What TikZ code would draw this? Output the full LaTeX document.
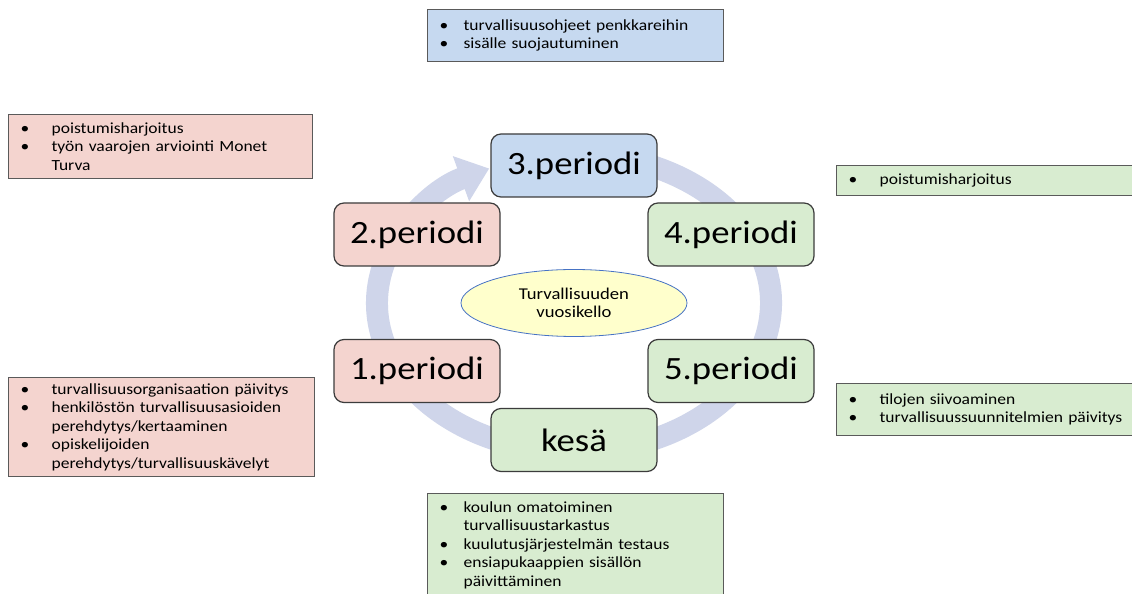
\documentclass[tikz,border=0pt]{standalone}
\usepackage{fontspec}
\setmainfont{Carlito}[FakeStretch=1.13]
\usetikzlibrary{shapes.geometric,arrows.meta}

\definecolor{pinkfill}{RGB}{244,212,207}
\definecolor{bluefill}{RGB}{198,217,240}
\definecolor{greenfill}{RGB}{216,236,208}
\definecolor{ringblue}{RGB}{207,213,234}
\definecolor{clockfill}{RGB}{255,255,204}
\definecolor{clockline}{RGB}{70,114,196}
\definecolor{notegray}{RGB}{90,90,90}
\definecolor{periodgray}{RGB}{60,60,60}

\newlength{\bulw}
\newcommand{\bitem}[1]{\makebox[\bulw][l]{\textbullet}#1}
\newcommand{\bcont}[1]{\hspace*{\bulw}#1}

\begin{document}
\begin{tikzpicture}[
  x = 1pt, y = 1pt,
  period/.style = {draw = periodgray, line width = 1.2pt, rounded corners = 10pt,
                   minimum width = 166pt, minimum height = 63pt, inner sep = 0pt,
                   font = \fontsize{32.5}{36}\selectfont},
  note/.style = {draw = notegray, line width = 1.2pt, anchor = north west, align = left,
                 inner xsep = 12pt, inner ysep = 0pt, font = \fontsize{15.5}{18.5}\selectfont},
  bullet width/.style = {execute at begin node = {\setlength{\bulw}{#1}}},
  ring/.style = {draw = ringblue, line width = 22pt,
                 -{Triangle[length = 30pt, width = 46pt]}},
  ]
  \path[use as bounding box, fill = white] (0,0) rectangle (1132,594);

  \coordinate (hub) at (574,291);
  \draw[ring] (hub) ++(80:197pt and 149pt)
    arc[start angle = 80, end angle = -244.5, x radius = 197pt, y radius = 149pt];

  \node[draw = clockline, fill = clockfill, ellipse, line width = 0.8pt,
        minimum width = 226pt, minimum height = 67pt, inner sep = 0pt, align = center,
        font = \fontsize{16.5}{18.5}\selectfont] (clock) at (hub) {Turvallisuuden\\vuosikello};

  \node[period, fill = bluefill]  (pthree) at (574,428.5) {3.periodi};
  \node[period, fill = pinkfill]  (ptwo)   at (417,359.5) {2.periodi};
  \node[period, fill = greenfill] (pfour)  at (731,359.5) {4.periodi};
  \node[period, fill = pinkfill]  (pone)   at (417,223)   {1.periodi};
  \node[period, fill = greenfill] (pfive)  at (731,223)   {5.periodi};
  \node[period, fill = greenfill] (summer) at (574,154)   {kesä};

  \node[note, fill = bluefill, text width = 272pt, minimum height = 52pt, bullet width = 24pt]
    (notethree) at (427,585)
    {\bitem{turvallisuusohjeet penkkareihin}\\
     \bitem{sisälle suojautuminen}};
  \node[note, fill = pinkfill, text width = 280pt, minimum height = 64pt, bullet width = 31pt]
    (notetwo) at (8,480)
    {\bitem{poistumisharjoitus}\\
     \bitem{työn vaarojen arviointi Monet}\\
     \bcont{Turva}};
  \node[note, fill = greenfill, text width = 286pt, minimum height = 30pt, bullet width = 31pt]
    (notefour) at (836,429)
    {\bitem{poistumisharjoitus}};
  \node[note, fill = pinkfill, text width = 282pt, minimum height = 99pt, bullet width = 31pt]
    (noteone) at (8,217)
    {\bitem{turvallisuusorganisaation päivitys}\\
     \bitem{henkilöstön turvallisuusasioiden}\\
     \bcont{perehdytys/kertaaminen}\\
     \bitem{opiskelijoiden}\\
     \bcont{perehdytys/turvallisuuskävelyt}};
  \node[note, fill = greenfill, text width = 286pt, minimum height = 52pt, bullet width = 31pt]
    (notefive) at (836,211)
    {\bitem{tilojen siivoaminen}\\
     \bitem{turvallisuussuunnitelmien päivitys}};
  \node[note, fill = greenfill, text width = 272pt, minimum height = 103pt, bullet width = 24pt]
    (notesummer) at (427,101)
    {\bitem{koulun omatoiminen}\\
     \bcont{turvallisuustarkastus}\\
     \bitem{kuulutusjärjestelmän testaus}\\
     \bitem{ensiapukaappien sisällön}\\
     \bcont{päivittäminen}};
\end{tikzpicture}
\end{document}
